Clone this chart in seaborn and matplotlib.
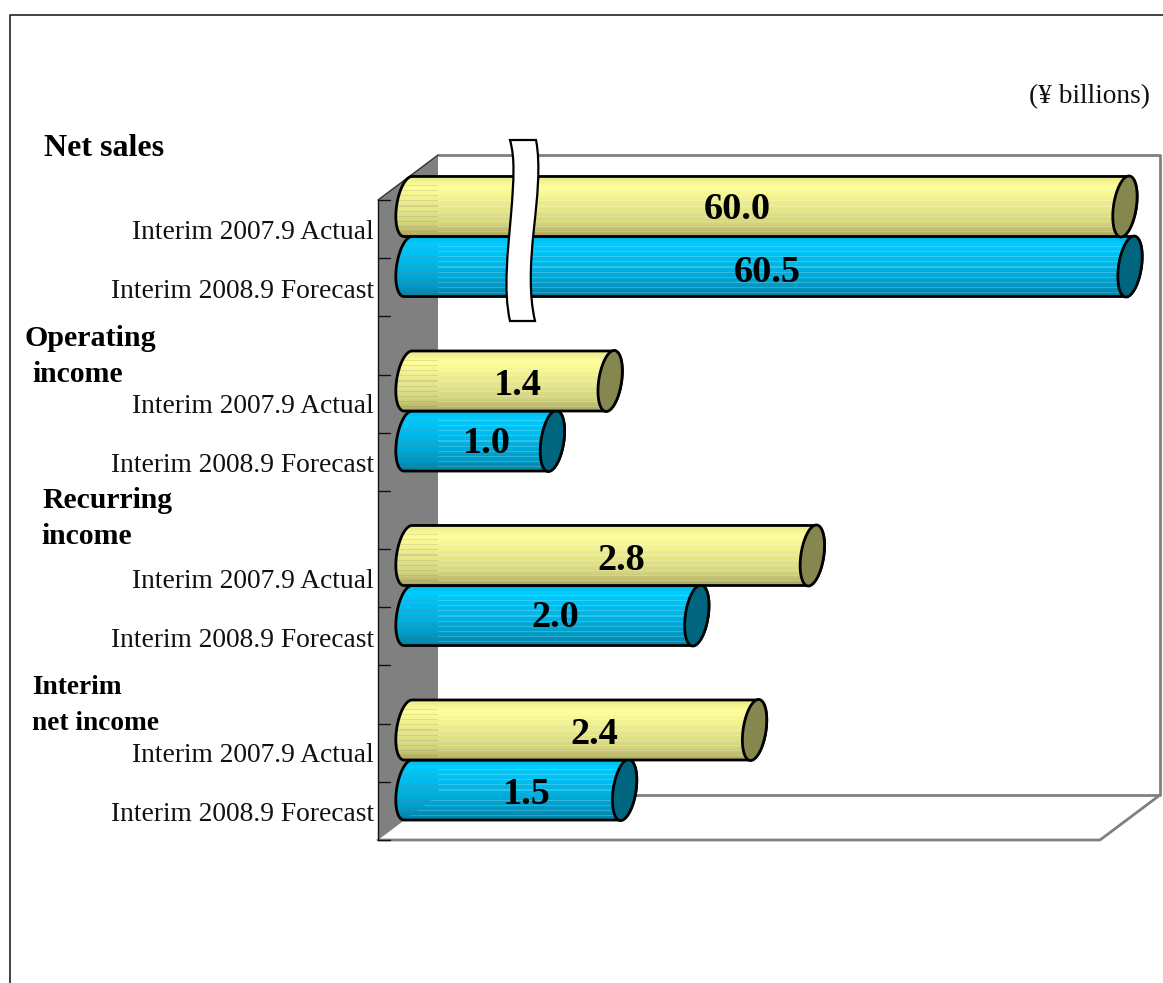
import matplotlib
matplotlib.use('Agg')
import matplotlib.pyplot as plt
from matplotlib.colors import LinearSegmentedColormap
from matplotlib.path import Path
from matplotlib.patches import PathPatch, Polygon
import numpy as np
import pandas as pd
import seaborn as sns

# data (Y billions)
items = ['Net sales', 'Operating income', 'Recurring income', 'Interim net income']
actual_2007 = [60.0, 1.4, 2.8, 2.4]
forecast_2008 = [60.5, 1.0, 2.0, 1.5]
period_labels = ['Interim 2007.9 Actual', 'Interim 2008.9 Forecast']
unit_label = '(¥ billions)'

W, H = 1163, 983
TEXT_DY = 4  # va='center' sits a bit high with this font
sns.set_theme(style='white')
plt.rcParams['font.family'] = ['Liberation Serif', 'DejaVu Sans']

df = pd.DataFrame({
    'item': items * 2,
    'period': [period_labels[0]] * 4 + [period_labels[1]] * 4,
    'value': actual_2007 + forecast_2008,
})

fig = plt.figure(figsize=(W / 100, H / 100), dpi=100)


def px_axes(zorder):
    a = fig.add_axes([0, 0, 1, 1], zorder=zorder)
    a.set_xlim(0, W)
    a.set_ylim(H, 0)
    a.set_axis_off()
    return a


# walls and frame go behind, cylinders and text in front
back = px_axes(0)
over = px_axes(2)

gray = '#808080'
back.plot([10, 10, W], [H, 15, 15], color='#222222', lw=1.2)
back.add_patch(Polygon([(378, 200), (438, 155), (438, 795), (378, 840)], fc=gray, ec='none'))
back.plot([438, 1160, 1160, 438], [155, 155, 795, 795], color=gray, lw=2)
back.plot([378, 1100, 1160], [840, 840, 795], color=gray, lw=2)
back.plot([378, 378], [200, 840], color='#111111', lw=1)
back.plot([378, 438], [200, 155], color='#333333', lw=1)
for ty in np.linspace(200, 840, 12):
    back.plot([378, 390], [ty, ty], color='#111111', lw=1)

# bars go through seaborn, the break is in the x scale
ax = fig.add_axes([408 / W, 1 - 847.25 / H, 752 / W, 698 / H], zorder=1)
ax.patch.set_alpha(0)
sns.barplot(data=df, y='item', x='value', hue='period', orient='h', width=0.688,
            gap=0, legend=False, ax=ax)

scale_in = [-10, 3, 50, 70]
scale_out = [-10, 3, 4.265, 5.665]


def forward(v):
    return np.interp(v, scale_in, scale_out)


def inverse(v):
    return np.interp(v, scale_out, scale_in)


ax.set_xscale('function', functions=(forward, inverse))
ax.set_xlim(0, inverse(752 / 144.4))
ax.set_ylim(3.5, -0.5)
ax.set_axis_off()
fig.canvas.draw()

yellow = LinearSegmentedColormap.from_list('y', [(0, '#E8E88C'), (0.2, '#FFFF99'), (0.55, '#E6E68A'),
                                                 (0.8, '#D4D47E'), (1, '#ACA860')])
blue = LinearSegmentedColormap.from_list('b', [(0, '#00B4E4'), (0.12, '#00CCFF'), (0.45, '#00B8E8'),
                                               (0.8, '#009CC8'), (1, '#0080A4')])
cap_yellow = '#86864F'
cap_blue = '#006680'


def ellipse(cx, cy, b, t):
    return np.column_stack([cx + 11.5 * np.cos(t) + 4 * np.sin(t), cy - b * np.sin(t)])


def draw_cylinder(bar, cmap, cap_color, zorder):
    (x0, y0), (x1, y1) = ax.transData.transform(
        [(bar.get_x(), bar.get_y()), (bar.get_x() + bar.get_width(), bar.get_y() + bar.get_height())])
    y0, y1 = H - y0, H - y1
    top, bottom = min(y0, y1), max(y0, y1)
    cy = (top + bottom) / 2
    b = (bottom - top) / 2
    left = ellipse(x0, cy, b, np.linspace(np.pi / 2, 3 * np.pi / 2, 40))
    right = ellipse(x1, cy, b, np.linspace(-np.pi / 2, np.pi / 2, 40))
    body = Polygon(np.vstack([left, right]), closed=True, fc='none', ec='none', zorder=zorder)
    over.add_patch(body)

    # shaded rows, every fifth one lets the wall show through a little
    n = int(round(bottom - top))
    rgba = cmap(np.linspace(0, 1, n))[:, None, :]
    rgba[:, 0, 3] = np.where((np.arange(n) % 5 == 0) & (np.arange(n) > n * 0.12), 0.8, 1.0)
    im = over.imshow(rgba, extent=(x0 - 14, x1 + 14, bottom, top), aspect='auto',
                     interpolation='nearest', zorder=zorder)
    im.set_clip_path(body)
    over.add_patch(Polygon(np.vstack([left, right]), closed=True, fc='none', ec='black', lw=2, zorder=zorder))

    t = np.linspace(0, 2 * np.pi, 80)
    over.add_patch(Polygon(ellipse(x1, cy, b + 0.5, t), closed=True, fc=cap_color, ec='black', lw=2, zorder=zorder))
    return (x0 + x1) / 2, cy


# yellow sits on top of the blue one below it
bars = list(ax.patches)
actual_bars, forecast_bars = bars[:4], bars[4:8]
for b_ in forecast_bars + actual_bars:
    b_.set_visible(False)

# hand nudged label offsets, like in the original slide
actual_nudge = [(-29, -1), (9, 1), (11, 1), (13, 1)]
forecast_nudge = [(-2, 2), (7, -2), (3, -2), (11, 0)]

for i in range(4):
    fx, fy = draw_cylinder(forecast_bars[i], blue, cap_blue, 3)
    ax_, ay = draw_cylinder(actual_bars[i], yellow, cap_yellow, 4)
    over.text(ax_ + actual_nudge[i][0], ay + actual_nudge[i][1] + TEXT_DY, f'{actual_2007[i]:.1f}', fontsize=27.6,
              fontweight='bold', ha='center', va='center', color='black', zorder=6)
    over.text(fx + forecast_nudge[i][0], fy + forecast_nudge[i][1] + TEXT_DY, f'{forecast_2008[i]:.1f}', fontsize=27.6,
              fontweight='bold', ha='center', va='center', color='black', zorder=6)
    over.text(374, ay + 22 + TEXT_DY, period_labels[0], fontsize=19.8, ha='right', va='center', color='#111111')
    over.text(374.5, fy + 20.5 + TEXT_DY, period_labels[1], fontsize=19.8, ha='right', va='center', color='#111111')

over.set_xlim(0, W)
over.set_ylim(H, 0)

# axis break strip
codes = [Path.MOVETO, Path.CURVE4, Path.CURVE4, Path.CURVE4, Path.CURVE4, Path.CURVE4, Path.CURVE4,
         Path.LINETO, Path.CURVE4, Path.CURVE4, Path.CURVE4, Path.CURVE4, Path.CURVE4, Path.CURVE4, Path.CLOSEPOLY]
verts = [(510, 140), (515, 158), (514, 178), (511, 215), (508, 250), (503, 290), (510, 321),
         (535, 321), (529, 295), (530, 265), (534, 228), (537, 200), (541, 165), (536, 140), (510, 140)]
over.add_patch(PathPatch(Path(verts, codes), fc='white', ec='black', lw=1.6, zorder=5))

# group titles sit where they were typed on the slide, sizes differ a bit too
title_font = dict(fontweight='bold', ha='left', va='center', color='black')
over.text(44, 145 + TEXT_DY, items[0], fontsize=23, **title_font)
over.text(25, 335 + TEXT_DY, 'Operating', fontsize=21.6, **title_font)
over.text(32, 371 + TEXT_DY, 'income', fontsize=21.4, **title_font)
over.text(42, 496 + TEXT_DY, 'Recurring', fontsize=21.4, **title_font)
over.text(41, 532 + TEXT_DY, 'income', fontsize=21.4, **title_font)
over.text(32, 684 + TEXT_DY, 'Interim', fontsize=19.7, **title_font)
over.text(32, 719 + TEXT_DY, 'net income', fontsize=19.7, **title_font)
over.text(1150, 93 + TEXT_DY, unit_label, fontsize=19.7, ha='right', va='center', color='#111111')

fig.savefig('out.png', dpi=100)
plt.close(fig)
